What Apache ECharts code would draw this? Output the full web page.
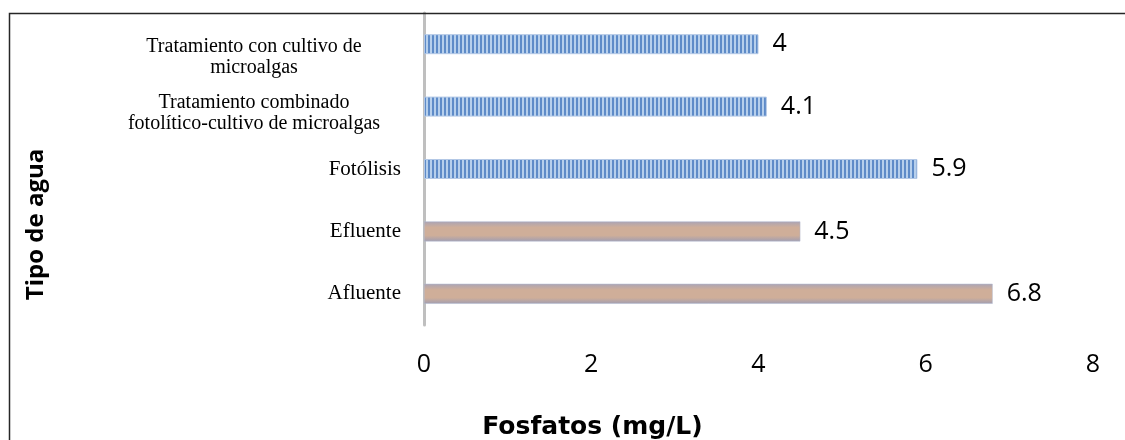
<!DOCTYPE html>
<html>
<head>
<meta charset="utf-8">
<script src="https://cdn.jsdelivr.net/npm/echarts@6/dist/echarts.min.js"></script>
<style>
html,body{margin:0;padding:0;background:#fff;}
#c{width:1125px;height:440px;}
</style>
</head>
<body>
<div id="c"></div>
<script>
// ---- data ----
var categories = [
  'Afluente',
  'Efluente',
  'Fotólisis',
  'Tratamiento combinado\nfotolítico-cultivo de microalgas',
  'Tratamiento con cultivo de\nmicroalgas'
];
var values = [6.8, 4.5, 5.9, 4.1, 4];
var groups = ['agua', 'agua', 'tratamiento', 'tratamiento', 'tratamiento'];
var xTicks = [0, 2, 4, 6, 8];
var xAxisTitle = 'Fosfatos (mg/L)';
var yAxisTitle = 'Tipo de agua';

// ---- styles ----
var cv = document.createElement('canvas');
cv.width = 4; cv.height = 2;
var cx = cv.getContext('2d');
cx.fillStyle = '#5e8bc8'; cx.fillRect(0, 0, 4, 2);
cx.fillStyle = '#b6cfec'; cx.fillRect(2, 0, 2, 2);
var stripe = { image: cv, repeat: 'repeat' };

var tan = new echarts.graphic.LinearGradient(0, 0, 0, 1, [
  { offset: 0, color: '#aaa4b5' },
  { offset: 0.3, color: '#cfae99' },
  { offset: 0.7, color: '#cfae99' },
  { offset: 1, color: '#a19eb1' }
]);

var seriesData = values.map(function (v, i) {
  var isWater = groups[i] === 'agua';
  return {
    value: v,
    itemStyle: isWater
      ? { color: tan, borderColor: '#b3bbd0', borderWidth: 0.5 }
      : { color: stripe, borderColor: '#b3c8e6', borderWidth: 1 }
  };
});

var serif = '"Liberation Serif", "Times New Roman", serif';
var sans = '"Open Sans", "Noto Sans", sans-serif';

var chart = echarts.init(document.getElementById('c'), null, { renderer: 'canvas' });
chart.setOption({
  backgroundColor: '#ffffff',
  animation: false,
  grid: { left: 424, right: 32, top: 13, bottom: 115, containLabel: false, outerBoundsMode: 'none' },
  xAxis: {
    type: 'value',
    min: xTicks[0],
    max: xTicks[xTicks.length - 1],
    interval: xTicks[1] - xTicks[0],
    axisLine: { show: false },
    axisTick: { show: false },
    splitLine: { show: false },
    axisLabel: { margin: 27, fontSize: 25, color: '#000', fontFamily: sans },
    name: xAxisTitle,
    nameLocation: 'middle',
    nameGap: 90,
    nameTextStyle: {
      fontSize: 25, fontWeight: 'bold', color: '#000', fontFamily: '"DejaVu Sans", sans-serif',
      padding: [0, 332, 0, 0]
    }
  },
  yAxis: {
    type: 'category',
    data: categories,
    axisLine: { show: true, lineStyle: { color: '#bfbfbf', width: 3 } },
    axisTick: { show: false },
    splitLine: { show: false },
    axisLabel: {
      margin: 23,
      fontFamily: serif,
      fontSize: 21,
      color: '#000',
      formatter: function (val, idx) {
        var lines = val.split('\n');
        if (lines.length === 1) return '{s|' + val + '}';
        var first = idx === 4 ? 'w1' : 'w2';
        return '{' + first + '|' + lines[0] + '}\n{w|' + lines[1] + '}';
      },
      rich: {
        s: { fontFamily: serif, fontSize: 21, color: '#000' },
        w: { fontFamily: serif, fontSize: 20, color: '#000', width: 294, align: 'center', lineHeight: 22 },
        w1: { fontFamily: serif, fontSize: 20, color: '#000', width: 294, align: 'center', padding: [28, 0, 0, 0] },
        w2: { fontFamily: serif, fontSize: 20, color: '#000', width: 294, align: 'center', padding: [14, 0, 0, 0] }
      }
    },
    name: yAxisTitle,
    nameLocation: 'middle',
    nameRotate: 90,
    nameGap: 376,
    nameTextStyle: {
      fontSize: 24, fontWeight: 'bold', color: '#000', fontFamily: sans,
      padding: [0, 111, 0, 0]
    }
  },
  series: [{
    type: 'bar',
    data: seriesData,
    barWidth: 20,
    label: {
      show: true,
      position: 'right',
      distance: 14,
      fontSize: 25,
      color: '#000',
      fontFamily: sans
    }
  }],
  graphic: [{
    type: 'polyline',
    silent: true,
    z: 100,
    shape: { points: [[9.5, 440], [9.5, 13.5], [1125, 13.5]] },
    style: { stroke: '#262626', lineWidth: 1.5, fill: null }
  }]
});
</script>
</body>
</html>
